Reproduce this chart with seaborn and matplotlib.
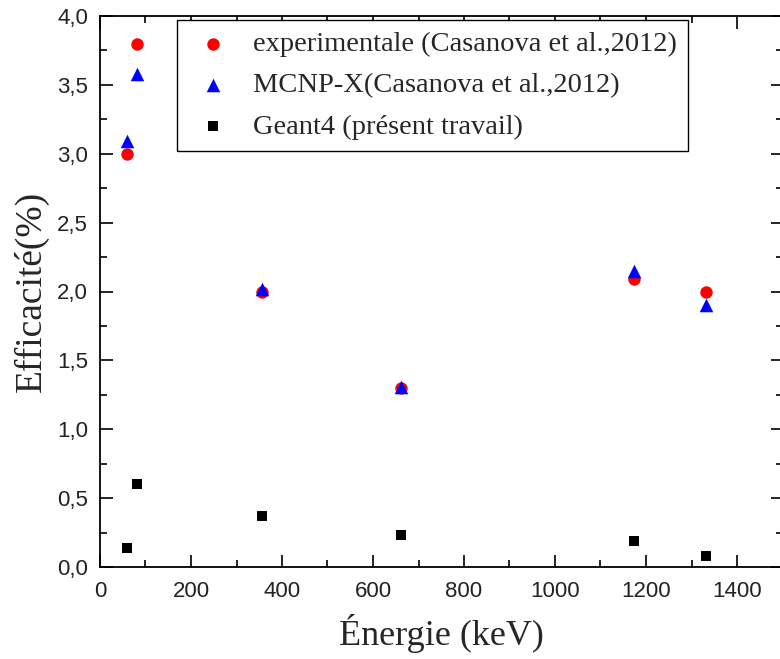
import matplotlib
matplotlib.use("Agg")
import matplotlib.pyplot as plt
import seaborn as sns
import pandas as pd
from matplotlib.ticker import FuncFormatter, MultipleLocator

energy = [59.5, 81, 356, 662, 1173, 1332]
exp_eff = [3.00, 3.80, 2.00, 1.30, 2.09, 2.00]
mcnp_eff = [3.09, 3.58, 2.02, 1.31, 2.15, 1.90]
geant_eff = [0.14, 0.60, 0.37, 0.23, 0.19, 0.08]

labels = ["experimentale (Casanova et al.,2012)",
          "MCNP-X(Casanova et al.,2012)",
          "Geant4 (présent travail)"]

sns.set_style("white")
plt.rcParams['font.family'] = ['Liberation Sans', 'DejaVu Sans']

fig = plt.figure(figsize=(7.8, 6.59), dpi=100)
ax = fig.add_axes([100/780, 1-567/659, 682.5/780, 551/659])

df_exp = pd.DataFrame({"E": energy, "eff": exp_eff})
df_mc = pd.DataFrame({"E": energy, "eff": mcnp_eff})
df_g = pd.DataFrame({"E": energy, "eff": geant_eff})

sns.scatterplot(data=df_exp, x="E", y="eff", ax=ax, color="#ff0000", marker="o",
                s=80, linewidth=0, label=labels[0], zorder=3)
sns.scatterplot(data=df_mc, x="E", y="eff", ax=ax, color="#0000ff", marker="^",
                s=95, linewidth=0, label=labels[1], zorder=4)
sns.scatterplot(data=df_g, x="E", y="eff", ax=ax, color="black", marker="s",
                s=60, linewidth=0, label=labels[2], zorder=3)

ax.set_xlim(0, 1500)
ax.set_ylim(0, 4.0)
ax.xaxis.set_major_locator(MultipleLocator(200))
ax.xaxis.set_minor_locator(MultipleLocator(100))
ax.yaxis.set_major_locator(MultipleLocator(0.5))
ax.yaxis.set_minor_locator(MultipleLocator(0.25))
ax.yaxis.set_major_formatter(FuncFormatter(lambda v, p: f"{v:.1f}".replace('.', ',')))

ax.tick_params(which='both', direction='in', top=True, right=True, bottom=True, left=True,
               colors='black', width=1.2, labelcolor='#222222')
ax.tick_params(which='major', length=9, labelsize=16)
ax.tick_params(axis='x', which='major', pad=10)
ax.tick_params(axis='y', which='major', pad=8.5)
ax.tick_params(which='minor', length=5)
for sp in ax.spines.values():
    sp.set_visible(True)
    sp.set_color('black')
    sp.set_linewidth(1.3)

ax.set_xlabel("Énergie (keV)", fontsize=26, family=['Liberation Serif', 'DejaVu Serif'], labelpad=9)
ax.set_ylabel("Efficacité(%)", fontsize=27, family=['Liberation Serif', 'DejaVu Serif'], labelpad=6)

leg = ax.legend(loc='upper left', bbox_to_anchor=(0.113, 0.993), borderaxespad=0,
                prop={'family': 'Liberation Serif', 'size': 20.5}, frameon=True,
                fancybox=False, edgecolor='black', framealpha=1, markerscale=1.0,
                handlelength=1.7, handletextpad=0.57, labelspacing=0.54, borderpad=0.4)
leg.get_frame().set_linewidth(1.0)

fig.savefig("out.png", dpi=100)
